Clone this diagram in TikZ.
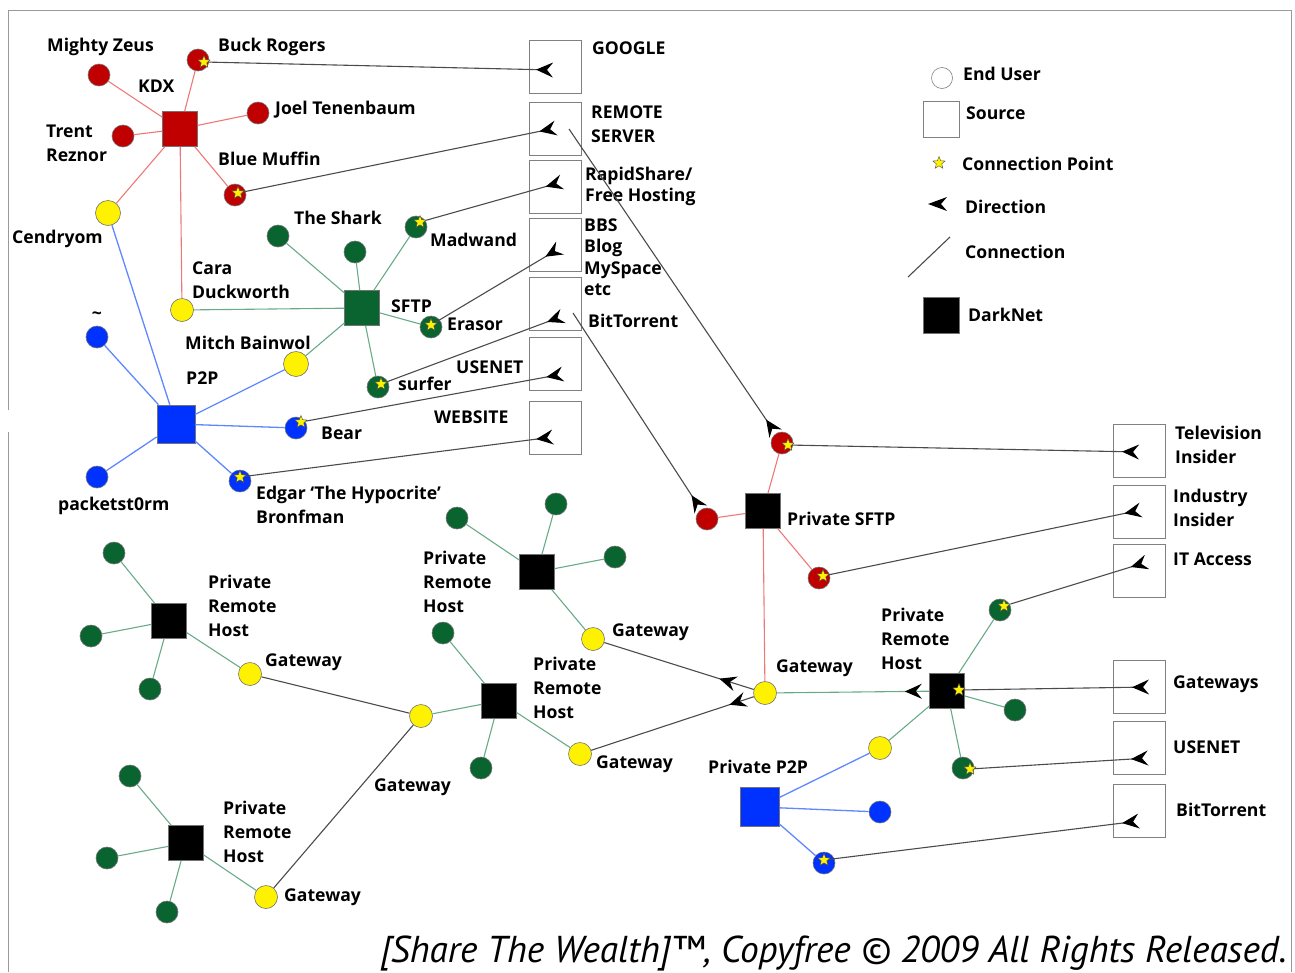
\documentclass[tikz,border=0pt]{standalone}
\usepackage{fontspec}
\setmainfont{Open Sans}
\newfontfamily\creditfont{PT Sans}
\usepackage{tikz}
\usetikzlibrary{arrows.meta,shapes.geometric,decorations.markings}
\definecolor{kdxred}{RGB}{192,0,0}
\definecolor{redwire}{RGB}{238,120,120}
\definecolor{nodegreen}{RGB}{10,100,48}
\definecolor{greenwire}{RGB}{105,170,135}
\definecolor{p2pblue}{RGB}{0,50,255}
\definecolor{bluewire}{RGB}{95,135,255}
\definecolor{wire}{RGB}{75,75,75}
\newcommand{\dirarw}{-{Stealth[reversed,length=17pt,width=15pt,inset=6pt,color=black]}}

\begin{document}
\begin{tikzpicture}[x=1pt,y=-1pt,
  font=\fontsize{17.6}{24}\selectfont\bfseries,
  user/.style={circle,draw=black!55,line width=.6pt,minimum size=22pt,inner sep=0pt},
  reduser/.style={user,fill=kdxred},
  grnuser/.style={user,fill=nodegreen},
  blueuser/.style={user,fill=p2pblue},
  gwuser/.style={user,fill=yellow,minimum size=23pt},
  hub/.style={rectangle,draw=black!55,line width=.6pt,minimum size=35pt,inner sep=0pt},
  srcbox/.style={rectangle,draw=black!50,line width=.9pt,minimum width=52pt,minimum height=53pt,inner sep=0pt},
  cpstar/.style={star,star points=5,star point ratio=2.3,fill=yellow,draw=black!70,line width=.4pt,minimum size=13pt,inner sep=0pt},
  lbl/.style={inner sep=0pt,anchor=west,align=left},
  redl/.style={draw=redwire,line width=1.1pt},
  grnl/.style={draw=greenwire,line width=1.1pt},
  bluel/.style={draw=bluewire,line width=1.3pt},
  conl/.style={draw=wire,line width=1.1pt},
  midarw/.style={postaction={decorate},decoration={markings,mark=at position #1 with {\arrow{Stealth[length=17pt,width=15pt,inset=6pt,color=black]}}}}
]
\useasboundingbox (0,0) rectangle (1295,972);
%frame
\draw[black!40,line width=1pt] (8,972) -- (8,432);
\draw[black!40,line width=1pt] (8,410) -- (8,10) -- (1291,10) -- (1291,972);

%KDX
\node[hub,fill=kdxred] (kdx) at (180,129) {};
\node[reduser] (zeus) at (99,75) {};
\node[reduser] (buck) at (198,60) {};
\node[reduser] (joel) at (258,113) {};
\node[reduser] (trent) at (123,136) {};
\node[reduser] (muffin) at (235,195) {};
\node[gwuser,minimum size=25pt] (cendryom) at (108,213) {};
\node[gwuser] (cara) at (182,310) {};
\node[cpstar] (buckcp) at (204,62) {};
\node[cpstar] (muffincp) at (238,193) {};
\foreach \u in {zeus,buck,joel,trent,muffin,cendryom,cara}
  \draw[redl] (kdx) -- (\u);
\node[lbl] (zeuslbl) at (47,47) {Mighty Zeus};
\node[lbl] (bucklbl) at (218,47) {Buck Rogers};
\node[lbl] (kdxlbl) at (138,86) {KDX};
\node[lbl] (joellbl) at (275,110) {Joel Tenenbaum};
\node[lbl] (trentlbl) at (46,143) {Trent\\Reznor};
\node[lbl] (muffinlbl) at (218,159) {Blue Muffin};
\node[lbl] (cendryomlbl) at (12,239) {Cendryom};
\node[lbl] (caralbl) at (192,280) {Cara\\Duckworth};

%P2P
\node[hub,fill=p2pblue,minimum size=38pt] (p2p) at (176,424) {};
\node[blueuser] (tilde) at (97,337) {};
\node[blueuser] (packet) at (97,477) {};
\node[blueuser] (bear) at (296,428) {};
\node[blueuser] (edgar) at (240,481) {};
\node[gwuser,minimum size=25pt] (mitch) at (296,364) {};
\node[cpstar] (bearcp) at (301,422) {};
\node[cpstar] (edgarcp) at (240,477) {};
\foreach \u in {tilde,packet,bear,edgar,mitch,cendryom}
  \draw[bluel] (p2p) -- (\u);
\node (tildelbl) at (97,316) {\textasciitilde};
\node[lbl] (mitchlbl) at (185,343) {Mitch Bainwol};
\node[lbl] (p2plbl) at (186,378) {P2P};
\node[lbl] (bearlbl) at (321,433) {Bear};
\node[lbl] (edgarlbl) at (256,505) {Edgar ‘The Hypocrite’\\Bronfman};
\node[lbl] (packetlbl) at (58,506) {packetst0rm};

%SFTP
\node[hub,fill=nodegreen] (sftp) at (362,308) {};
\node[grnuser] (shark) at (278,236) {};
\node[grnuser] (sharkb) at (355,252) {};
\node[grnuser] (madwand) at (416,227) {};
\node[grnuser] (erasor) at (431,327) {};
\node[grnuser] (surfer) at (378,387) {};
\node[cpstar] (madwandcp) at (420,222) {};
\node[cpstar] (erasorcp) at (431,325) {};
\node[cpstar] (surfercp) at (381,384) {};
\foreach \u in {shark,sharkb,madwand,erasor,surfer,cara,mitch}
  \draw[grnl] (sftp) -- (\u);
\node[lbl] (sharklbl) at (294,218) {The Shark};
\node[lbl] (madwandlbl) at (430,240) {Madwand};
\node[lbl] (sftplbl) at (391,306) {SFTP};
\node[lbl] (erasorlbl) at (447,324) {Erasor};
\node[lbl] (surferlbl) at (398,384) {surfer};

%sources, left column
\node[srcbox] (google) at (555,67) {};
\node[srcbox] (remote) at (555,128.5) {};
\node[srcbox] (rapid) at (555,186.5) {};
\node[srcbox] (bbs) at (555,244.5) {};
\node[srcbox] (btor) at (555,304) {};
\node[srcbox] (usenet) at (555,364) {};
\node[srcbox] (website) at (555,428) {};
\coordinate (googlein) at (553,70);
\coordinate (remotein) at (556,128);
\coordinate (rapidin) at (562,182);
\coordinate (bbsin) at (560,248);
\coordinate (btorin) at (563,316);
\coordinate (usenetin) at (563,374);
\coordinate (websitein) at (553,437);
\coordinate (remoteout) at (569,129);
\coordinate (btorout) at (573,313);
\node[lbl] (googlelbl) at (592,48) {GOOGLE};
\node[lbl] (remotelbl) at (591,124) {REMOTE\\SERVER};
\node[lbl,font=\fontsize{17.6}{21}\selectfont\bfseries] (rapidlbl) at (585,186) {RapidShare/\\Free Hosting};
\node[lbl,font=\fontsize{17.6}{21.5}\selectfont\bfseries] (bbslbl) at (584,257) {BBS\\Blog\\MySpace\\etc};
\node[lbl] (btorlbl) at (588,321) {BitTorrent};
\node[lbl] (usenetlbl) at (456,367) {USENET};
\node[lbl] (websitelbl) at (434,417) {WEBSITE};
\draw[conl,\dirarw] (buckcp) -- (googlein);
\draw[conl,\dirarw] (muffincp) -- (remotein);
\draw[conl,\dirarw] (madwandcp) -- (rapidin);
\draw[conl,\dirarw] (erasorcp) -- (bbsin);
\draw[conl,\dirarw] (surfercp) -- (btorin);
\draw[conl,\dirarw] (bearcp) -- (usenetin);
\draw[conl,\dirarw] (edgarcp) -- (websitein);

%legend
\node[user,draw=black!50,fill=white,minimum size=21pt] (keyuser) at (942,78) {};
\node[srcbox,minimum width=36pt,minimum height=36pt] (keysrc) at (941,119) {};
\node[cpstar] (keystar) at (939,163) {};
\fill (928,204) -- (947,197) -- (941,204) -- (947,211) -- cycle;
\coordinate (keyc1) at (908,277);
\coordinate (keyc2) at (950,237);
\draw[conl] (keyc1) -- (keyc2);
\node[hub,fill=black,minimum size=36pt] (keydark) at (941,315) {};
\node[lbl] (keyuserlbl) at (963,74) {End User};
\node[lbl] (keysrclbl) at (966,113) {Source};
\node[lbl] (keystarlbl) at (962,164) {Connection Point};
\node[lbl] (keydirlbl) at (965,207) {Direction};
\node[lbl] (keyconlbl) at (965,252) {Connection};
\node[lbl] (keydarklbl) at (968,315) {DarkNet};

%private SFTP
\node[hub,fill=black] (psftp) at (763,511) {};
\node[reduser] (psl) at (707,519) {};
\node[reduser] (pst) at (782,443) {};
\node[reduser] (psb) at (819,578) {};
\node[cpstar] (pstcp) at (788,445) {};
\node[cpstar] (psbcp) at (823,576) {};
\foreach \u in {psl,pst,psb}
  \draw[redl] (psftp) -- (\u);
\node[lbl] (psftplbl) at (787,519) {Private SFTP};
\draw[conl,\dirarw] (remoteout) -- (pst);
\draw[conl,\dirarw] (btorout) -- (psl);

%sources, right column
\node[srcbox] (tv) at (1139,450.5) {};
\node[srcbox] (industry) at (1139,512) {};
\node[srcbox] (itacc) at (1139,571) {};
\node[srcbox] (gws) at (1139,686.5) {};
\node[srcbox] (usenetb) at (1139,747.5) {};
\node[srcbox] (btorb) at (1139,811) {};
\coordinate (tvin) at (1139,452);
\coordinate (industryin) at (1141,510);
\coordinate (itaccin) at (1147,562);
\coordinate (gwsin) at (1149,687);
\coordinate (usenetbin) at (1148,758);
\coordinate (btorbin) at (1139,821);
\node[lbl] (tvlbl) at (1175,445) {Television\\Insider};
\node[lbl] (industrylbl) at (1173,508) {Industry\\Insider};
\node[lbl] (itacclbl) at (1173,559) {IT Access};
\node[lbl] (gwslbl) at (1173,684) {Gateways};
\node[lbl] (usenetblbl) at (1173,747) {USENET};
\node[lbl] (btorblbl) at (1176,810) {BitTorrent};
\draw[conl,\dirarw] (pstcp) -- (tvin);
\draw[conl,\dirarw] (psbcp) -- (industryin);

%private remote host, right
\node[hub,fill=black] (prhr) at (947,691) {};
\node[grnuser] (rhA) at (1000,610) {};
\node[grnuser] (rhB) at (1015,710) {};
\node[grnuser] (rhC) at (963,768) {};
\node[gwuser] (rhgw) at (880,748) {};
\node[cpstar] (rhAcp) at (1004,606) {};
\node[cpstar] (prhrcp) at (959,690) {};
\node[cpstar] (rhCcp) at (970,769) {};
\foreach \u in {rhA,rhB,rhC,rhgw}
  \draw[grnl] (prhr) -- (\u);
\node[lbl] (prhrlbl) at (881,639) {Private\\Remote\\Host};
\draw[conl,\dirarw] (rhAcp) -- (itaccin);
\draw[conl,\dirarw] (prhrcp) -- (gwsin);
\draw[conl,\dirarw] (rhCcp) -- (usenetbin);

%private P2P
\node[hub,fill=p2pblue,minimum size=39pt] (pp2p) at (760,807) {};
\node[blueuser] (ppA) at (880,812) {};
\node[blueuser] (ppB) at (824,863) {};
\node[cpstar] (ppBcp) at (824,860) {};
\foreach \u in {ppA,ppB,rhgw}
  \draw[bluel] (pp2p) -- (\u);
\node[lbl] (pp2plbl) at (708,767) {Private P2P};
\draw[conl,\dirarw] (ppBcp) -- (btorbin);

%main gateway
\node[gwuser] (gwm) at (765,693) {};
\draw[redl] (psftp) -- (gwm);
\draw[grnl,midarw=0.16] (prhr) -- (gwm);
\node[lbl] (gwmlbl) at (776,668) {Gateway};

%private remote host, middle top
\node[hub,fill=black] (prht) at (537,572) {};
\node[grnuser] (rtA) at (457,518) {};
\node[grnuser] (rtB) at (556,504) {};
\node[grnuser] (rtC) at (615,557) {};
\node[gwuser] (gwt) at (593,639) {};
\foreach \u in {rtA,rtB,rtC,gwt}
  \draw[grnl] (prht) -- (\u);
\node[lbl] (prhtlbl) at (423,582) {Private\\Remote\\Host};
\node[lbl] (gwtlbl) at (612,632) {Gateway};

%private remote host, middle
\node[hub,fill=black] (prhm) at (499,701) {};
\node[grnuser] (rmA) at (443,633) {};
\node[grnuser] (rmB) at (481,768) {};
\node[gwuser] (gwml) at (421,716) {};
\node[gwuser] (gwmr) at (580,754) {};
\foreach \u in {rmA,rmB,gwml,gwmr}
  \draw[grnl] (prhm) -- (\u);
\node[lbl] (prhmlbl) at (533,688) {Private\\Remote\\Host};
\node[lbl] (gwmrlbl) at (596,764) {Gateway};
\node[lbl] (gwmllbl) at (374,787) {Gateway};
\draw[conl,midarw=0.23] (gwm) -- (gwt);
\draw[conl,midarw=0.15] (gwm) -- (gwmr);

%private remote host, left
\node[hub,fill=black] (prhl) at (169,621) {};
\node[grnuser] (rlA) at (114,553) {};
\node[grnuser] (rlB) at (91,636) {};
\node[grnuser] (rlC) at (150,689) {};
\node[gwuser] (gwl) at (250,674) {};
\foreach \u in {rlA,rlB,rlC,gwl}
  \draw[grnl] (prhl) -- (\u);
\node[lbl] (prhllbl) at (208,606) {Private\\Remote\\Host};
\node[lbl] (gwllbl) at (265,662) {Gateway};
\draw[conl] (gwl) -- (gwml);

%private remote host, bottom
\node[hub,fill=black] (prhb) at (186,843) {};
\node[grnuser] (rbA) at (130,776) {};
\node[grnuser] (rbB) at (107,858) {};
\node[grnuser] (rbC) at (167,912) {};
\node[gwuser] (gwb) at (266,897) {};
\foreach \u in {rbA,rbB,rbC,gwb}
  \draw[grnl] (prhb) -- (\u);
\node[lbl] (prhblbl) at (223,832) {Private\\Remote\\Host};
\node[lbl] (gwblbl) at (284,897) {Gateway};
\draw[conl] (gwb) -- (gwml);

%credit line
\node[anchor=base east,inner sep=0pt,font=\creditfont\fontsize{37.4}{40}\selectfont\mdseries\itshape] (credit) at (1287,962) {[Share The Wealth]™, Copyfree © 2009 All Rights Released.};
\end{tikzpicture}
\end{document}
